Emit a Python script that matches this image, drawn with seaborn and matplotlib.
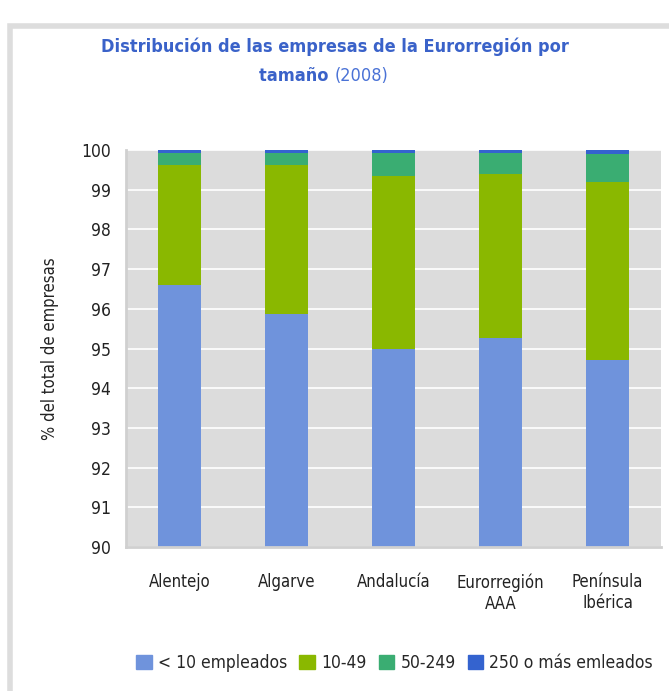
import matplotlib
matplotlib.use('Agg')
import matplotlib.pyplot as plt
import matplotlib.patches as mpatches
import numpy as np
import pandas as pd
import seaborn as sns

regiones = ['Alentejo', 'Algarve', 'Andalucía', 'Eurorregión\nAAA', 'Península\nIbérica']
tamanos = ['< 10 empleados', '10-49', '50-249', '250 o más emleados']
menos_10 = [96.60, 95.87, 95.00, 95.27, 94.72]
de_10_49 = [3.03, 3.75, 4.35, 4.13, 4.47]
de_50_249 = [0.30, 0.30, 0.57, 0.52, 0.71]
mas_250 = [0.07, 0.08, 0.08, 0.08, 0.10]
colores = ['#6f93dc', '#8ab800', '#3aad72', '#3463cf']

sns.set_style('white')
plt.rcParams['font.family'] = ['DejaVu Sans']
plt.rcParams['font.stretch'] = 'condensed'

df = pd.DataFrame({'region': regiones, tamanos[0]: menos_10, tamanos[1]: de_10_49,
                   tamanos[2]: de_50_249, tamanos[3]: mas_250})
acum = df[tamanos].cumsum(axis=1)
acum['region'] = df['region']

fig = plt.figure(figsize=(6.69, 6.91), dpi=100)
fig.patches.append(mpatches.Rectangle((10 / 669, -0.01), 1.0, 0.99 - 12 / 691, transform=fig.transFigure,
                                      fill=False, edgecolor='#dddddd', linewidth=4))
ax = fig.add_axes([126 / 669, 1 - 547 / 691, 535 / 669, 397 / 691])
ax.set_facecolor('#dcdcdc')

# draw cumulative layers from the top so each lower one covers the previous
for nombre, color in reversed(list(zip(tamanos, colores))):
    sns.barplot(data=acum, x='region', y=nombre, color=color, width=0.41, ax=ax,
                saturation=1, linewidth=0, zorder=2)

ax.set_ylim(90, 100)
ax.set_yticks(range(90, 101))
ax.set_xlim(-0.5, 4.5)
ax.set_xticks(np.arange(-0.5, 5, 1), minor=True)
ax.set_xticks(range(5))
ax.set_xticklabels(regiones, fontsize=12, color='#222222')
ax.tick_params(axis='x', which='major', length=0, pad=19)
ax.tick_params(axis='x', which='minor', length=5, width=2, color='#d0d0d0')
ax.tick_params(axis='y', length=5, width=2, color='#d0d0d0', labelsize=12.5, labelcolor='#222222', pad=6)
ax.grid(axis='y', color='white', linewidth=1.2, zorder=1)
ax.set_axisbelow(True)
for s in ['top', 'right']:
    ax.spines[s].set_visible(False)
for s in ['left', 'bottom']:
    ax.spines[s].set_color('#d0d0d0')
    ax.spines[s].set_linewidth(2)
ax.set_xlabel('')
ax.set_ylabel('% del total de empresas', fontsize=12, color='#222222', labelpad=16)

handles = [mpatches.Patch(color=c) for c in colores]
fig.legend(handles, tamanos, loc='center', bbox_to_anchor=(0.59, 1 - 663 / 691), ncol=4, frameon=False,
           fontsize=12.5, handlelength=0.9, handleheight=0.9, handletextpad=0.35, columnspacing=0.7)

titulo_color = '#3a62c9'
fig.text(0.5, 1 - 47 / 691, 'Distribución de las empresas de la Eurorregión por',
         ha='center', va='center', fontsize=13, fontweight='bold', color=titulo_color)
fig.text(0.5, 1 - 76 / 691, 'tamaño ', ha='right', va='center', fontsize=13,
         fontweight='bold', color=titulo_color)
fig.text(0.5, 1 - 76 / 691, '(2008)', ha='left', va='center', fontsize=13, color='#4a72d6')

fig.savefig('out.png', dpi=100)
